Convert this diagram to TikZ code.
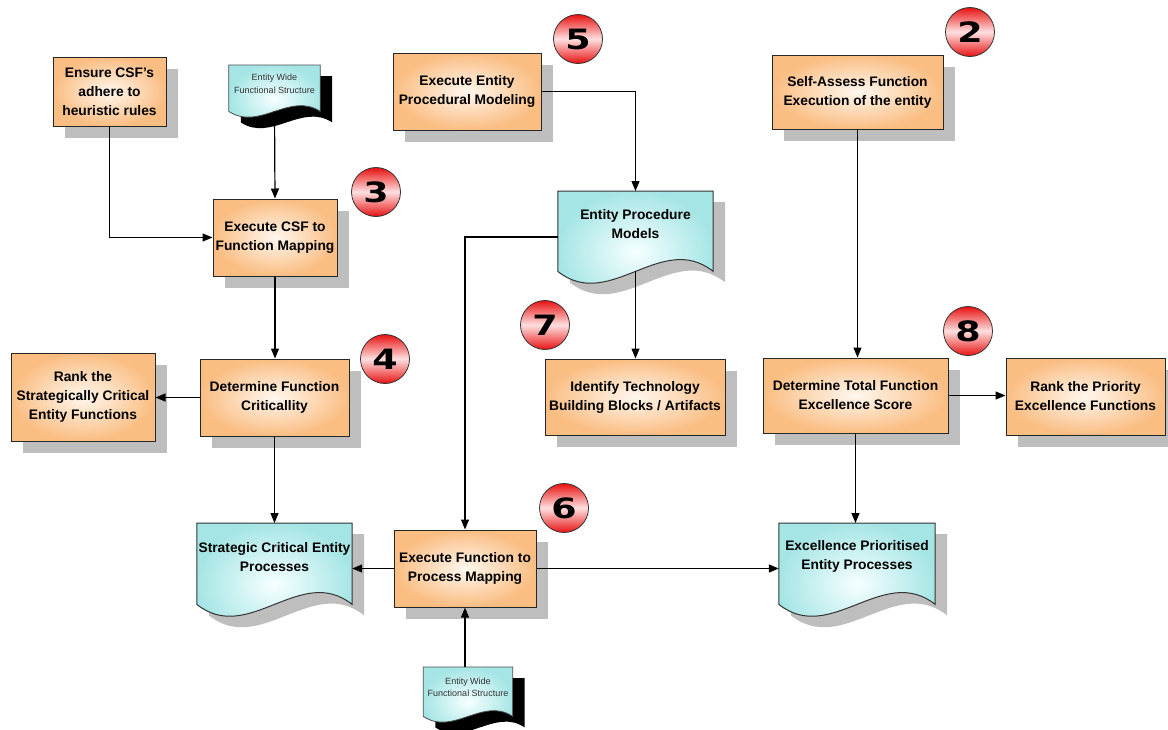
\documentclass[tikz,border=0pt]{standalone}
\usepackage{fontspec}
\setmainfont{Liberation Sans}
\newfontfamily\badgefont{DejaVu Sans}[FakeStretch=1.3]
\usetikzlibrary{arrows.meta,shadows,calc,backgrounds}

\definecolor{boxorange}{RGB}{250,189,130}
\definecolor{boxlight}{RGB}{255,247,238}
\definecolor{doccyan}{RGB}{166,229,229}
\definecolor{doclight}{RGB}{246,255,255}
\definecolor{shadowgray}{RGB}{190,190,190}
\definecolor{badgered}{RGB}{232,18,18}

\tikzset{
  procbox/.style={rectangle, draw=black!85, line width=1pt, inner sep=0pt,
    inner color=boxlight, outer color=boxorange, align=center,
    font=\bfseries\fontsize{13.8}{19}\selectfont,
    drop shadow={shadow xshift=12pt, shadow yshift=-12pt, fill=shadowgray, opacity=1}},
  docnode/.style={rectangle, inner sep=0pt, anchor=north, align=center,
    font=\bfseries\fontsize{13.8}{19}\selectfont},
  smalldoc/.style={docnode, font=\fontsize{9}{12.5}\selectfont, text=black!80},
  badge/.style={circle, draw=black!80, line width=0.8pt, minimum size=49pt, inner sep=0pt,
    top color=badgered, bottom color=badgered, middle color=white!88!red,
    font=\badgefont\bfseries\fontsize{28}{28}\selectfont},
  arr/.style={line width=1.2pt, -{Triangle[length=10pt,width=8pt]}}
}

% document outline below a node: options, node, drop of the wave base, wave depth
\newcommand{\docshape}[4][]{%
  \path[#1] let \p1=(#2.south west), \p2=(#2.north east), \n1={\x2-\x1} in
    (\x1,\y2) -- (\x2,\y2) -- (\x2,\y1-#3)
    .. controls (\x1+2*\n1/3,\y1-#3+#4) and (\x1+\n1/3,\y1-#3-#4) .. (\x1,\y1-#3) -- cycle;}

\begin{document}
\begin{tikzpicture}[x=1pt,y=-1pt]
\useasboundingbox (0,0) rectangle (1168,729);

% process boxes
\node[procbox, minimum width=113pt, minimum height=69pt] (ensure) at (109.5,91.5) {Ensure CSF’s\\adhere to\\heuristic rules};
\node[procbox, minimum width=124pt, minimum height=77pt] (csf) at (275,237.5) {Execute CSF to\\Function Mapping};
\node[procbox, minimum width=148pt, minimum height=77pt] (eepm) at (467,91.5) {Execute Entity\\Procedural Modeling};
\node[procbox, minimum width=171pt, minimum height=74pt] (self) at (857.5,92) {Self-Assess Function\\Execution of the entity};
\node[procbox, minimum width=144pt, minimum height=88pt] (rankc) at (83,397) {Rank the\\Strategically Critical\\Entity Functions};
\node[procbox, minimum width=149pt, minimum height=77pt] (dfc) at (274.5,397.5) {Determine Function\\Criticallity};
\node[procbox, minimum width=180pt, minimum height=76pt] (itb) at (635,397) {Identify Technology\\Building Blocks / Artifacts};
\node[procbox, minimum width=185pt, minimum height=75pt] (dte) at (855.5,395.5) {Determine Total Function\\Excellence Score};
\node[procbox, minimum width=159pt, minimum height=77pt] (rankp) at (1085.5,396.5) {Rank the Priority\\Excellence Functions};
\node[procbox, minimum width=142pt, minimum height=77pt] (efpm) at (465,568.5) {Execute Function to\\Process Mapping};

% documents
\node[docnode, minimum width=155pt, minimum height=66pt] (epm) at (635.5,191) {Entity Procedure\\Models};
\node[docnode, minimum width=155pt, minimum height=67pt] (scep) at (274.5,523) {Strategic Critical Entity\\Processes};
\node[docnode, minimum width=156pt, minimum height=67pt] (epep) at (857,523) {Excellence Prioritised\\Entity Processes};
\node[smalldoc, minimum width=91pt, minimum height=37pt] (topdoc) at (274.5,65) {Entity Wide\\Functional Structure};
\node[smalldoc, minimum width=89pt, minimum height=40pt] (botdoc) at (468,667) {Entity Wide\\Functional Structure};

\begin{pgfonlayer}{background}
  \foreach \d in {epm,scep,epep}{
    \docshape[fill=shadowgray, transform canvas={shift={(12pt,-11pt)}}]{\d}{14pt}{41pt}
    \docshape[draw=black!80, line width=1pt, inner color=doclight, outer color=doccyan]{\d}{14pt}{41pt}
  }
  \foreach \d in {topdoc,botdoc}{
    \docshape[fill=black, transform canvas={shift={(12pt,-11pt)}}]{\d}{9pt}{20pt}
    \docshape[draw=black!70, line width=0.8pt, inner color=doclight, outer color=doccyan]{\d}{9pt}{20pt}
  }
\end{pgfonlayer}

% step numbers
\node[badge] (b2) at (970,32) {2};
\node[badge] (b3) at (376,192) {3};
\node[badge] (b4) at (385,359) {4};
\node[badge] (b5) at (578,39) {5};
\node[badge] (b6) at (564,508) {6};
\node[badge] (b7) at (545,325) {7};
\node[badge] (b8) at (968,331) {8};

% connectors
\draw[arr] (ensure.south) |- (csf.west);
\draw[arr] ($(topdoc.south)+(0,9)$) -- (csf.north);
\draw[arr] (csf.south) -- (csf.south |- dfc.north);
\draw[arr] (dfc.west) -- (dfc.west -| rankc.east);
\draw[arr] (dfc.south) -- (dfc.south |- scep.north);
\draw[arr] (eepm.east) -| (epm.north);
\draw[arr] ($(epm.north west)+(0,46)$) -| (efpm.north);
\draw[arr] ($(epm.south)+(0,14)$) -- (epm.south |- itb.north);
\draw[arr] (self.south) -- (self.south |- dte.north);
\draw[arr] (dte.east) -- (dte.east -| rankp.west);
\draw[arr] (dte.south) -- (dte.south |- epep.north);
\draw[arr] (efpm.west) -- (efpm.west -| scep.east);
\draw[arr] (efpm.east) -- (efpm.east -| epep.west);
\draw[arr] (botdoc.north -| efpm.south) -- (efpm.south);
\end{tikzpicture}
\end{document}
